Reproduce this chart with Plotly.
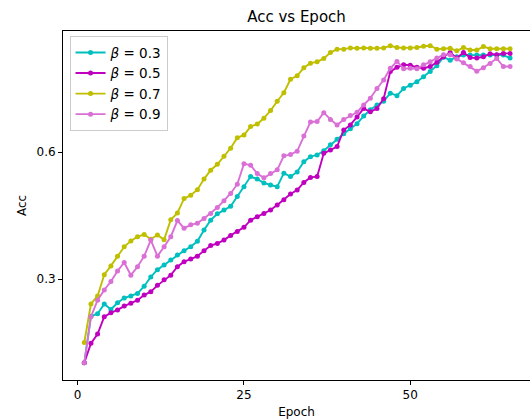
import plotly.graph_objects as go

epochs = list(range(1, 66))

acc_b03 = [0.102, 0.212, 0.218, 0.241, 0.228, 0.244, 0.255, 0.260, 0.266, 0.283,
           0.305, 0.322, 0.333, 0.345, 0.357, 0.367, 0.376, 0.389, 0.416, 0.439,
           0.454, 0.463, 0.472, 0.495, 0.518, 0.542, 0.536, 0.527, 0.522, 0.518,
           0.550, 0.542, 0.553, 0.577, 0.589, 0.593, 0.603, 0.617, 0.630, 0.643,
           0.655, 0.667, 0.685, 0.700, 0.711, 0.720, 0.739, 0.733, 0.750, 0.758,
           0.766, 0.778, 0.790, 0.804, 0.824, 0.817, 0.825, 0.829, 0.829, 0.829,
           0.829, 0.829, 0.829, 0.829, 0.822]

acc_b05 = [0.102, 0.148, 0.170, 0.211, 0.220, 0.227, 0.236, 0.243, 0.250, 0.262,
           0.270, 0.285, 0.298, 0.309, 0.329, 0.341, 0.347, 0.354, 0.367, 0.379,
           0.384, 0.392, 0.403, 0.412, 0.422, 0.439, 0.447, 0.455, 0.463, 0.475,
           0.487, 0.501, 0.510, 0.528, 0.540, 0.542, 0.597, 0.605, 0.613, 0.652,
           0.664, 0.683, 0.703, 0.695, 0.703, 0.726, 0.790, 0.800, 0.806, 0.805,
           0.800, 0.798, 0.802, 0.812, 0.825, 0.835, 0.822, 0.835, 0.823, 0.822,
           0.825, 0.832, 0.830, 0.833, 0.833]

acc_b07 = [0.150, 0.241, 0.260, 0.310, 0.331, 0.354, 0.376, 0.390, 0.400, 0.405,
           0.394, 0.404, 0.393, 0.440, 0.456, 0.490, 0.498, 0.511, 0.536, 0.557,
           0.571, 0.590, 0.609, 0.634, 0.640, 0.660, 0.666, 0.680, 0.698, 0.720,
           0.740, 0.772, 0.780, 0.799, 0.810, 0.813, 0.821, 0.835, 0.843, 0.843,
           0.846, 0.845, 0.846, 0.845, 0.845, 0.846, 0.851, 0.847, 0.846, 0.846,
           0.847, 0.850, 0.851, 0.843, 0.844, 0.845, 0.839, 0.847, 0.841, 0.841,
           0.849, 0.844, 0.844, 0.844, 0.844]

acc_b09 = [0.102, 0.211, 0.250, 0.274, 0.294, 0.319, 0.339, 0.309, 0.329, 0.354,
           0.392, 0.354, 0.376, 0.400, 0.438, 0.420, 0.428, 0.432, 0.443, 0.455,
           0.469, 0.485, 0.502, 0.524, 0.572, 0.569, 0.549, 0.539, 0.549, 0.558,
           0.591, 0.594, 0.602, 0.638, 0.671, 0.672, 0.693, 0.677, 0.664, 0.677,
           0.686, 0.694, 0.711, 0.727, 0.750, 0.770, 0.798, 0.814, 0.797, 0.798,
           0.797, 0.806, 0.813, 0.822, 0.830, 0.830, 0.820, 0.811, 0.802, 0.791,
           0.799, 0.809, 0.821, 0.802, 0.802]

series_names = ["<i>β</i> = 0.3", "<i>β</i> = 0.5", "<i>β</i> = 0.7", "<i>β</i> = 0.9"]
series_colors = ["#00BFBF", "#BF00BF", "#BFBF00", "#DA70D6"]
series_values = [acc_b03, acc_b05, acc_b07, acc_b09]

x_ticks = [0, 25, 50]
x_tick_labels = ["0", "25", "50"]
y_ticks = [0.3, 0.6]
y_tick_labels = ["0.3", "0.6"]

FONT = "DejaVu Sans, Liberation Sans, sans-serif"

fig = go.Figure()
for name, color, vals in zip(series_names, series_colors, series_values):
    fig.add_trace(go.Scatter(
        x=epochs, y=vals, name=name, mode="lines+markers",
        line=dict(color=color, width=1.9),
        marker=dict(color=color, size=5),
    ))

fig.update_layout(
    width=530, height=419,
    margin=dict(l=63, r=0, t=31, b=39),
    paper_bgcolor="white", plot_bgcolor="white",
    font=dict(family=FONT, size=12, color="black"),
    title=dict(text="Acc vs Epoch", x=0.5, xanchor="center", xref="paper",
               y=1 - 17 / 419, yref="container", yanchor="middle",
               font=dict(size=15, color="black", family=FONT)),
    showlegend=True,
    legend=dict(x=0.014, y=0.985, xanchor="left", yanchor="top",
                bgcolor="rgba(255,255,255,0.8)", bordercolor="#cccccc", borderwidth=1,
                font=dict(size=13.5, family=FONT, color="black"),
                itemwidth=30, tracegroupgap=0),
)

fig.update_xaxes(
    range=[-2.2, 68.0], showgrid=False, zeroline=False,
    showline=True, linecolor="black", linewidth=1, mirror=True,
    ticks="outside", ticklen=4, tickcolor="black", tickwidth=1,
    tickvals=x_ticks, ticktext=x_tick_labels,
    tickfont=dict(size=12, color="black", family=FONT),
    title=dict(text="Epoch", standoff=7, font=dict(size=12, color="black", family=FONT)),
)
fig.update_yaxes(
    range=[0.0614, 0.8859], showgrid=False, zeroline=False,
    showline=True, linecolor="black", linewidth=1, mirror=True,
    ticks="outside", ticklen=4, tickcolor="black", tickwidth=1,
    tickvals=y_ticks, ticktext=y_tick_labels,
    tickfont=dict(size=12, color="black", family=FONT),
    title=dict(text="Acc", standoff=7, font=dict(size=12, color="black", family=FONT)),
)

fig.write_html("out.html")
